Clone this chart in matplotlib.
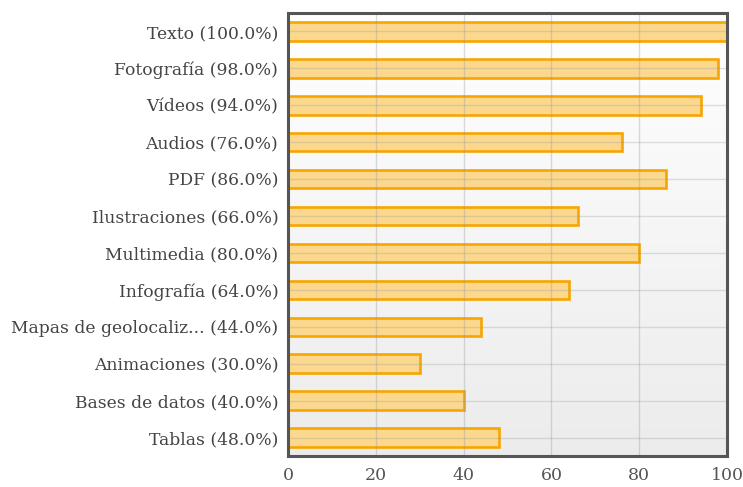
import matplotlib
matplotlib.use("Agg")
import matplotlib.pyplot as plt
import numpy as np

categories = ["Texto", "Fotografía", "Vídeos", "Audios", "PDF", "Ilustraciones",
              "Multimedia", "Infografía", "Mapas de geolocaliz...", "Animaciones",
              "Bases de datos", "Tablas"]
values = [100.0, 98.0, 94.0, 76.0, 86.0, 66.0, 80.0, 64.0, 44.0, 30.0, 40.0, 48.0]
x_ticks = [0, 20, 40, 60, 80, 100]

plt.rcParams['font.family'] = ['DejaVu Serif']

fig = plt.figure(figsize=(7.43, 4.87), dpi=100)
ax = fig.add_axes([288/743, 1-456/487, (727-288)/743, (456-13)/487])

# gradient background
grad = np.linspace(1.0, 0.925, 256).reshape(-1, 1)
ax.imshow(np.dstack([grad, grad, grad]), extent=[0, 1, 0, 1], transform=ax.transAxes,
          aspect='auto', zorder=0)

y = np.arange(len(categories))
ax.barh(y, values, height=0.5, color='#fbd88e', edgecolor='#f8a500', linewidth=1.9, zorder=2)

labels = [f"{c} ({v:.1f}%)" for c, v in zip(categories, values)]
ax.set_yticks(y)
ax.set_yticklabels(labels, fontsize=12.3, color='#444444')
ax.set_ylim(len(categories) - 0.5, -0.5)
ax.set_xlim(0, 100)
ax.set_xticks(x_ticks)
ax.set_xticklabels([str(t) for t in x_ticks], fontsize=12.5, color='#555555')
ax.tick_params(axis='y', length=0, pad=7)
ax.tick_params(axis='x', length=0, pad=8)

for t in x_ticks[1:-1]:
    ax.axvline(t, color='#999999', alpha=0.35, lw=1, zorder=3)
for yy in y:
    ax.axhline(yy, color='#999999', alpha=0.3, lw=1, zorder=3)

for s in ax.spines.values():
    s.set_color('#555555')
    s.set_linewidth(2.2)
    s.set_zorder(5)

fig.savefig("out.png", dpi=100)
